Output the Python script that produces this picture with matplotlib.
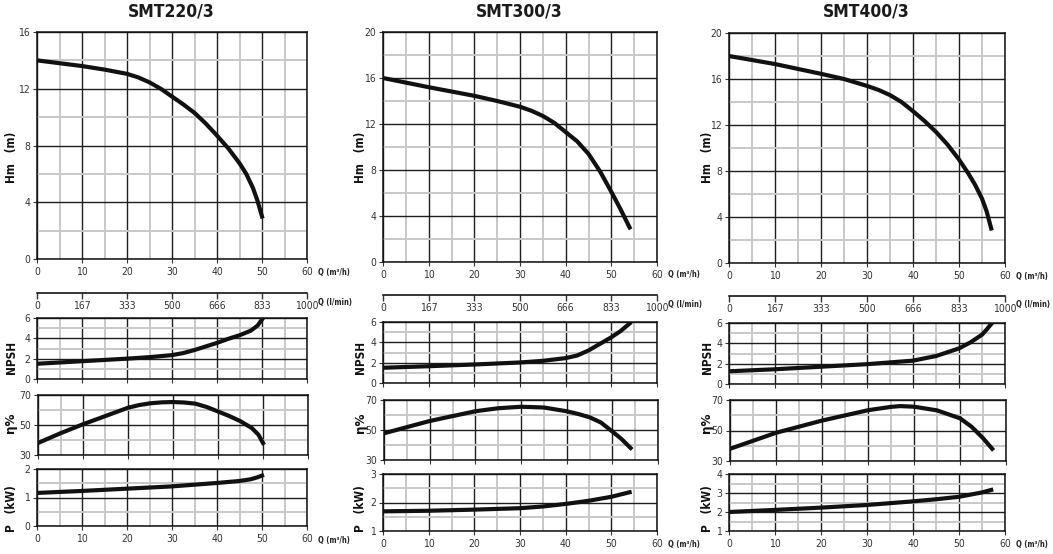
import matplotlib
matplotlib.use("Agg")
import matplotlib.pyplot as plt
from matplotlib import font_manager

W, H = 1053, 554

# ---- data ----
titles = ["SMT220/3", "SMT300/3", "SMT400/3"]
x_ticks = [0, 10, 20, 30, 40, 50, 60]
lmin_labels = ["0", "167", "333", "500", "666", "833", "1000"]

q_h220 = [0, 5, 10, 15, 20, 22.5, 25, 27.5, 30, 32.5, 35, 37.5, 40, 42.5, 45, 46.5, 48, 49, 50]
h220 = [14.0, 13.8, 13.6, 13.35, 13.05, 12.8, 12.45, 12.0, 11.45, 10.9, 10.3, 9.55, 8.7, 7.8, 6.75, 6.0, 5.0, 4.1, 3.0]
q_n220 = [0, 10, 20, 25, 30, 32.5, 35, 37.5, 40, 42.5, 45, 47.5, 49, 50]
npsh220 = [1.5, 1.75, 2.0, 2.15, 2.35, 2.55, 2.85, 3.2, 3.55, 3.95, 4.3, 4.75, 5.25, 5.85]
q_e220 = [0, 5, 10, 15, 20, 22.5, 25, 27.5, 30, 32.5, 35, 37.5, 40, 42.5, 45, 47.5, 49, 50]
eta220 = [38, 44.5, 50.5, 56, 61.5, 63.3, 64.5, 65.1, 65.3, 65.0, 64.2, 62.0, 59, 56, 52.5, 48, 43.5, 38]
q_p220 = [0, 10, 20, 30, 40, 45, 47.5, 49, 50]
p220 = [1.16, 1.23, 1.31, 1.39, 1.51, 1.58, 1.64, 1.71, 1.77]

q_h300 = [0, 10, 20, 25, 30, 32.5, 35, 37.5, 40, 42.5, 45, 47.5, 50, 52, 54]
h300 = [16.0, 15.2, 14.45, 14.0, 13.5, 13.15, 12.7, 12.1, 11.3, 10.5, 9.4, 7.9, 6.1, 4.6, 3.0]
q_n300 = [0, 10, 20, 30, 35, 40, 42.5, 45, 47.5, 50, 52, 54]
npsh300 = [1.5, 1.65, 1.82, 2.02, 2.18, 2.45, 2.7, 3.2, 3.85, 4.5, 5.1, 5.85]
q_e300 = [0, 10, 20, 25, 30, 35, 40, 42.5, 45, 47.5, 50, 52, 54]
eta300 = [47.8, 56, 62.5, 64.5, 65.5, 65, 62.5, 60.7, 58.5, 55, 49, 44, 38]
q_p300 = [0, 10, 20, 30, 35, 40, 45, 50, 54]
p300 = [1.69, 1.71, 1.75, 1.8, 1.86, 1.95, 2.06, 2.2, 2.36]

q_h400 = [0, 10, 20, 25, 30, 32.5, 35, 37.5, 40, 42.5, 45, 47.5, 50, 52, 53.5, 55, 56, 57]
h400 = [18.0, 17.3, 16.45, 16.0, 15.4, 15.05, 14.6, 14.0, 13.2, 12.35, 11.4, 10.3, 9.0, 7.8, 6.8, 5.6, 4.5, 3.0]
q_n400 = [0, 10, 20, 30, 40, 45, 50, 52.5, 55, 56, 57]
npsh400 = [1.25, 1.45, 1.7, 1.95, 2.3, 2.75, 3.5, 4.1, 4.85, 5.35, 5.9]
q_e400 = [0, 10, 20, 30, 35, 37, 40, 45, 50, 52.5, 55, 56, 57]
eta400 = [38, 48.5, 56.5, 63.3, 65.5, 66, 65.6, 63.2, 58, 52.5, 45, 41.5, 38]
q_p400 = [0, 10, 20, 30, 40, 45, 50, 55, 57]
p400 = [2.0, 2.11, 2.23, 2.37, 2.56, 2.67, 2.8, 3.03, 3.16]

pumps = [
    (q_h220, h220, q_n220, npsh220, q_e220, eta220, q_p220, p220),
    (q_h300, h300, q_n300, npsh300, q_e300, eta300, q_p300, p300),
    (q_h400, h400, q_n400, npsh400, q_e400, eta400, q_p400, p400),
]

# y scales per panel: (limits, major ticks, minor ticks)
h_scales = [
    ((0, 16), [0, 4, 8, 12, 16], [2, 6, 10, 14]),
    ((0, 20), [0, 4, 8, 12, 16, 20], [2, 6, 10, 14, 18]),
    ((0, 20), [0, 4, 8, 12, 16, 20], [2, 6, 10, 14, 18]),
]
n_scale = ((0, 6), [0, 2, 4, 6], [1, 3, 5])
e_scale = ((30, 70), [30, 50, 70], [40, 60])
p_scales = [
    ((0, 2), [0, 1, 2], [0.5, 1.5]),
    ((1, 3), [1, 2, 3], [1.5, 2.5]),
    ((1, 4), [1, 2, 3, 4], [1.5, 2.5, 3.5]),
]

# ---- layout in pixels ----
cols = [
    dict(l=37, r=307, title_x=171, lab_x=12, hm=(32, 259), lmin=293,
         npsh=(318, 379), eta=(395, 455), p=(469, 526)),
    dict(l=383, r=657, title_x=519, lab_x=361, hm=(32, 262), lmin=295,
         npsh=(322, 383), eta=(400, 460), p=(474, 531)),
    dict(l=729, r=1005, title_x=866, lab_x=707, hm=(33, 263), lmin=296,
         npsh=(323, 384), eta=(400, 461), p=(474, 531)),
]


# look for narrow fonts (regular and bold), else use plain sans
def weight_num(f):
    w = f.weight
    if isinstance(w, str):
        w = font_manager.weight_dict.get(w, 400)
    return w


narrow = [f for f in font_manager.fontManager.ttflist
          if "Narrow" in f.name or "Condensed" in f.name
          or "condensed" in str(f.stretch)]
reg = [f for f in narrow if weight_num(f) < 600 and f.style == "normal"]
bold = [f for f in narrow if weight_num(f) >= 600 and f.style == "normal"]

if reg:
    REG = dict(family=[reg[0].name, "DejaVu Sans"], stretch=reg[0].stretch)
else:
    REG = dict(family=["DejaVu Sans"])
if bold:
    BOLD = dict(family=[bold[0].name, "DejaVu Sans"], stretch=bold[0].stretch,
                fontweight="bold")
else:
    BOLD = dict(family=["Liberation Sans", "DejaVu Sans"], fontweight="bold")

TICK_C = "#333333"

fig = plt.figure(figsize=(W / 100, H / 100), dpi=100)


def px_axes(l, t, r, b):
    return fig.add_axes([l / W, 1 - b / H, (r - l) / W, (b - t) / H])


def px_text(x, y, s, **kw):
    fig.text(x / W, 1 - y / H, s, **kw)


def style_labels(labels):
    for lab in labels:
        lab.set_family(REG["family"])
        if "stretch" in REG:
            lab.set_stretch(REG["stretch"])


def setup(ax, scale, xlabels):
    lim, major, minor = scale
    ax.set_xlim(0, 60)
    ax.set_ylim(*lim)
    ax.set_xticks(x_ticks)
    ax.set_xticks([5, 15, 25, 35, 45, 55], minor=True)
    ax.set_yticks(major)
    ax.set_yticks(minor, minor=True)
    ax.set_yticklabels([f"{v:g}" for v in major])
    ax.grid(which="minor", color="#c8c8c8", lw=1.4, zorder=0)
    ax.grid(which="major", color="#1e1e1e", lw=1.0, zorder=1)
    ax.set_axisbelow(True)
    for s in ax.spines.values():
        s.set_color("#111111")
        s.set_linewidth(1.1)
    ax.tick_params(which="major", length=3, width=0.8, pad=2,
                   labelsize=7.5, colors=TICK_C)
    ax.tick_params(which="minor", length=0)
    ax.tick_params(axis="x", labelbottom=xlabels, pad=3)
    style_labels(ax.get_xticklabels() + ax.get_yticklabels())


def ylab(x, y, s, size=8.5):
    px_text(x, y, s, rotation=90, ha="center", va="center", fontsize=size,
            color="#111111", **BOLD)


for c, col in enumerate(cols):
    qh, hh, qn, nn, qe, ee, qp, pp = pumps[c]
    l, r = col["l"], col["r"]

    px_text(col["title_x"], 12, titles[c], ha="center", va="center",
            fontsize=12.5, color="#1a1a1a", **BOLD)

    ax = px_axes(l, col["hm"][0], r, col["hm"][1])
    setup(ax, h_scales[c], True)
    ax.plot(qh, hh, color="#111111", lw=3, zorder=3)
    ylab(col["lab_x"], 157, "Hm   (m)")
    px_text(r + 11, col["hm"][1] + 13, "Q (m\u00b3/h)", fontsize=5.5,
            va="center", color="#222222", **BOLD)

    # l/min scale line
    axl = px_axes(l, col["lmin"] - 1, r, col["lmin"])
    axl.set_xlim(0, 60)
    axl.set_yticks([])
    axl.set_xticks(x_ticks)
    axl.set_xticklabels(lmin_labels)
    for side in ["top", "left", "right"]:
        axl.spines[side].set_visible(False)
    axl.spines["bottom"].set_linewidth(1.1)
    axl.patch.set_alpha(0)
    axl.tick_params(axis="x", length=4, width=1, pad=2, labelsize=7.5,
                    colors=TICK_C)
    style_labels(axl.get_xticklabels())
    px_text(r + 11, col["lmin"] + 9, "Q (l/min)", fontsize=5.5,
            va="center", color="#222222", **BOLD)

    ax = px_axes(l, col["npsh"][0], r, col["npsh"][1])
    setup(ax, n_scale, False)
    ax.plot(qn, nn, color="#111111", lw=3, zorder=3)
    ylab(col["lab_x"], 357, "NPSH")

    ax = px_axes(l + 1, col["eta"][0], r + 1, col["eta"][1])
    setup(ax, e_scale, False)
    ax.plot(qe, ee, color="#111111", lw=3, zorder=3)
    ylab(col["lab_x"] - 1, 423, "\u03b7%", size=9.5)

    ax = px_axes(l, col["p"][0], r, col["p"][1])
    setup(ax, p_scales[c], True)
    ax.plot(qp, pp, color="#111111", lw=3, zorder=3)
    ylab(col["lab_x"], 509, "P   (kW)")
    px_text(r + 11, col["p"][1] + 14, "Q (m\u00b3/h)", fontsize=5.5,
            va="center", color="#222222", **BOLD)

fig.savefig("out.png", dpi=100, facecolor="white")
plt.close(fig)
